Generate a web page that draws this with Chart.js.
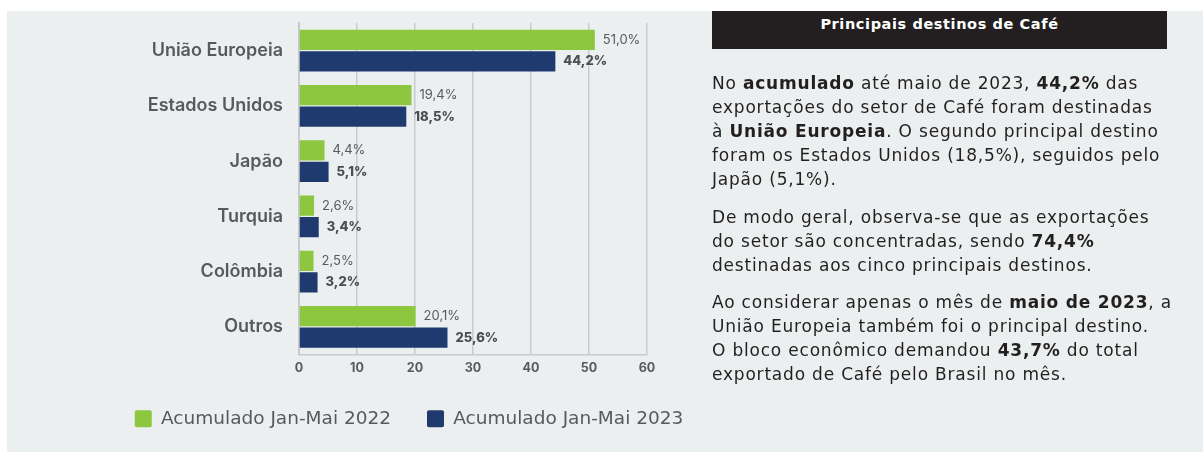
<!DOCTYPE html>
<html>
<head>
<meta charset="utf-8">
<script src="https://cdn.jsdelivr.net/npm/chart.js@4.4.0/dist/chart.umd.min.js"></script>
<style>
  body { margin: 0; background: #ffffff; width: 1203px; height: 452px; overflow: hidden; position: relative; font-family: Inter, sans-serif; }
  #panel { position: absolute; left: 7px; top: 11px; width: 1196px; height: 441px; background: #eceff0; }
  #chartBox { position: absolute; left: 7px; top: 11px; width: 804px; height: 441px; }
  #header { position: absolute; left: 712px; top: 11px; width: 455px; height: 38px; background: #231f20; color: #fff;
            font-family: "DejaVu Sans", sans-serif; font-weight: 700; font-size: 14.5px; letter-spacing: 0.6px; text-align: center; line-height: 26px; }
  #text { position: absolute; left: 712px; top: 71px; font-family: "DejaVu Sans", sans-serif; font-size: 17px; letter-spacing: 0.8px; line-height: 24px; color: #231f20; white-space: nowrap; }
  #text p { margin: 0 0 13.5px 0; }
</style>
</head>
<body>
<div id="panel"></div>
<div id="chartBox"><canvas id="myChart"></canvas></div>
<div id="header">Principais destinos de Café</div>
<div id="text">
  <p>No <b>acumulado</b> até maio de 2023, <b>44,2%</b> das<br>exportações do setor de Café foram destinadas<br>à <b>União Europeia</b>. O segundo principal destino<br>foram os Estados Unidos (18,5%), seguidos pelo<br>Japão (5,1%).</p>
  <p>De modo geral, observa-se que as exportações<br>do setor são concentradas, sendo <b>74,4%</b><br>destinadas aos cinco principais destinos.</p>
  <p>Ao considerar apenas o mês de <b>maio de 2023</b>, a<br>União Europeia também foi o principal destino.<br>O bloco econômico demandou <b>43,7%</b> do total<br>exportado de Café pelo Brasil no mês.</p>
</div>
<script>
var destinos = ["União Europeia", "Estados Unidos", "Japão", "Turquia", "Colômbia", "Outros"];
var acum2022 = [51.0, 19.4, 4.4, 2.6, 2.5, 20.1];
var acum2023 = [44.2, 18.5, 5.1, 3.4, 3.2, 25.6];
var ticksX = [0, 10, 20, 30, 40, 50, 60];

function fmt(v) {
  return v.toFixed(1).replace(".", ",") + "%";
}

// rótulos de valor ao lado das barras
var valueLabels = {
  id: "valueLabels",
  afterDatasetsDraw: function (chart) {
    var ctx = chart.ctx;
    chart.data.datasets.forEach(function (ds, i) {
      var meta = chart.getDatasetMeta(i);
      meta.data.forEach(function (bar, j) {
        ctx.save();
        ctx.font = (i === 1 ? "800 " : "400 ") + "13px Inter";
        ctx.fillStyle = i === 1 ? "#4d4d4f" : "#58595b";
        ctx.textBaseline = "middle";
        ctx.fillText(fmt(ds.data[j]), bar.x + 8, bar.y);
        ctx.restore();
      });
    });
  }
};

const ctx = document.getElementById("myChart");
new Chart(ctx, {
  type: "bar",
  data: {
    labels: destinos,
    datasets: [
      { label: "Acumulado Jan-Mai 2022", data: acum2022, backgroundColor: "#8dc63f", categoryPercentage: 0.78, barPercentage: 0.94 },
      { label: "Acumulado Jan-Mai 2023", data: acum2023, backgroundColor: "#1f3a6f", categoryPercentage: 0.78, barPercentage: 0.94 }
    ]
  },
  plugins: [valueLabels],
  options: {
    indexAxis: "y",
    responsive: true,
    maintainAspectRatio: false,
    animation: false,
    layout: { padding: { top: 12, right: 0, bottom: 14, left: 0 } },
    plugins: {
      tooltip: { enabled: false },
      legend: {
        position: "bottom",
        labels: {
          boxWidth: 17, boxHeight: 17, padding: 36,
          color: "#58595b",
          font: { family: "DejaVu Sans", size: 18.5 },
          useBorderRadius: true, borderRadius: 2
        }
      }
    },
    scales: {
      x: {
        min: 0, max: 60,
        afterBuildTicks: function (axis) {
          axis.ticks = ticksX.map(function (v) { return { value: v }; });
        },
        grid: { color: "#c9cacc", lineWidth: 1.5, drawTicks: false },
        border: { color: "#c9cacc", width: 1.5 },
        ticks: { color: "#58595b", padding: 6, font: { family: "Inter", size: 12.5, weight: "700" } },
        afterFit: function (axis) { axis.height = 19; axis.paddingLeft = 0; axis.paddingRight = 0; }
      },
      y: {
        grid: { display: false },
        border: { color: "#c9cacc", width: 2 },
        ticks: { color: "#58595b", padding: 8, font: { family: "Inter", size: 18, weight: "600" } },
        afterFit: function (axis) { axis.width = 292; axis.paddingTop = 0; axis.paddingBottom = 0; }
      },
      // eixo vazio à direita, só para reservar espaço dos rótulos
      yRight: {
        type: "category",
        position: "right",
        labels: destinos,
        grid: { display: false },
        border: { display: false },
        ticks: { display: false },
        afterFit: function (axis) { axis.width = 164; axis.paddingTop = 0; axis.paddingBottom = 0; }
      }
    }
  }
});
</script>
</body>
</html>
